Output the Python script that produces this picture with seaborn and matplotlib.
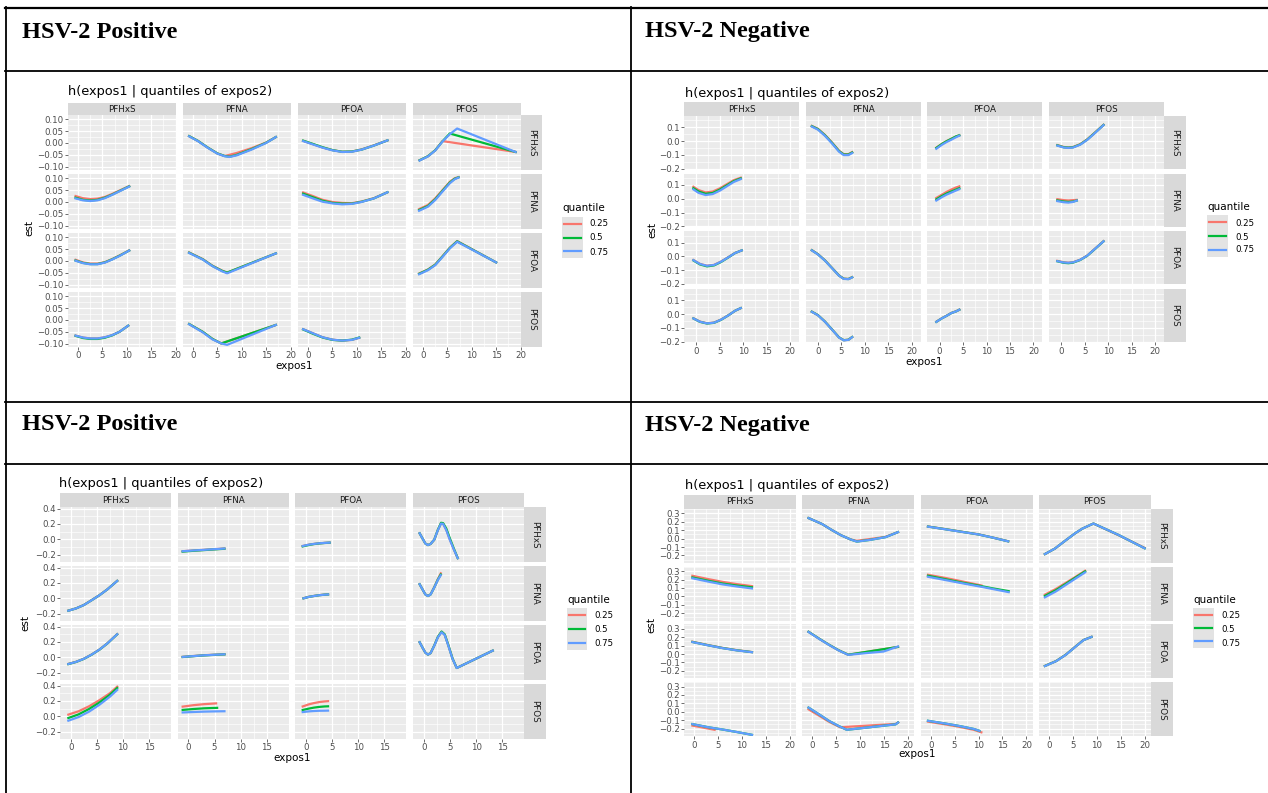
import matplotlib
matplotlib.use('Agg')
import matplotlib.pyplot as plt
from matplotlib.lines import Line2D
import pandas as pd
import seaborn as sns

plt.rcParams['font.family'] = ['DejaVu Sans']

VARS = ['PFHxS', 'PFNA', 'PFOA', 'PFOS']
QUANTILES = ['0.25', '0.5', '0.75']
COLORS = ['#F8766D', '#00BA38', '#619CFF']
HEADERS = ['HSV-2 Positive', 'HSV-2 Negative', 'HSV-2 Positive', 'HSV-2 Negative']
TITLE = 'h(expos1 | quantiles of expos2)'

# ---------------- data: (expos1 column, expos2 row) -> curves per quantile ----------------
POS_TOP = {
    ('PFHxS', 'PFNA'): dict(x=[-0.5, 1, 2.5, 4, 5.5, 7, 8.5, 10.5],
                            q25=[0.025, 0.016, 0.012, 0.014, 0.021, 0.034, 0.048, 0.067],
                            q50=[0.018, 0.009, 0.006, 0.009, 0.018, 0.031, 0.046, 0.066],
                            q75=[0.015, 0.007, 0.004, 0.007, 0.016, 0.030, 0.045, 0.065]),
    ('PFHxS', 'PFOA'): dict(x=[-0.5, 1, 2.5, 4, 5.5, 7, 8.5, 10.5],
                            q25=[0.005, -0.006, -0.011, -0.011, -0.005, 0.008, 0.023, 0.045],
                            q50=[0.002, -0.008, -0.013, -0.013, -0.006, 0.007, 0.022, 0.044],
                            q75=[0.001, -0.009, -0.014, -0.014, -0.007, 0.006, 0.021, 0.044]),
    ('PFHxS', 'PFOS'): dict(x=[-0.5, 1, 2.5, 4, 5.5, 7, 8.5, 10.3],
                            q25=[-0.066, -0.074, -0.078, -0.078, -0.073, -0.064, -0.050, -0.024],
                            q50=[-0.067, -0.076, -0.080, -0.080, -0.075, -0.065, -0.050, -0.024],
                            q75=[-0.066, -0.074, -0.078, -0.078, -0.073, -0.064, -0.050, -0.024]),
    ('PFNA', 'PFHxS'): dict(x=[-0.8, 1, 3, 5, 6.5, 7.5, 9, 12, 15, 17],
                            x25=[-0.8, 1, 3, 5, 6.5, 9, 12, 15, 17],
                            q25=[0.029, 0.009, -0.019, -0.044, -0.055, -0.042, -0.022, 0.002, 0.025],
                            q50=[0.029, 0.009, -0.019, -0.044, -0.055, -0.058, -0.050, -0.026, 0.001, 0.025],
                            q75=[0.028, 0.008, -0.020, -0.045, -0.056, -0.059, -0.052, -0.028, 0.000, 0.025]),
    ('PFNA', 'PFOA'): dict(x=[-0.8, 2, 4, 6, 7, 17],
                           q25=[0.036, 0.008, -0.020, -0.041, -0.049, 0.032],
                           q50=[0.035, 0.007, -0.021, -0.042, -0.049, 0.032],
                           q75=[0.034, 0.006, -0.022, -0.044, -0.052, 0.032]),
    ('PFNA', 'PFOS'): dict(x=[-0.8, 2, 4, 5.8, 7, 17],
                           x25=[-0.8, 2, 4, 5.8, 17], x50=[-0.8, 2, 4, 5.8, 17],
                           q25=[-0.017, -0.050, -0.080, -0.099, -0.021],
                           q50=[-0.017, -0.050, -0.080, -0.099, -0.021],
                           q75=[-0.018, -0.052, -0.082, -0.099, -0.105, -0.021]),
    ('PFOA', 'PFHxS'): dict(x=[-1, 1, 3, 5, 7, 9, 11, 13.5, 16.3],
                            q25=[0.009, -0.005, -0.019, -0.030, -0.037, -0.036, -0.027, -0.010, 0.011],
                            q50=[0.010, -0.004, -0.018, -0.030, -0.037, -0.036, -0.028, -0.011, 0.011],
                            q75=[0.008, -0.006, -0.020, -0.031, -0.038, -0.037, -0.028, -0.011, 0.011]),
    ('PFOA', 'PFNA'): dict(x=[-1, 1, 3, 5, 7, 9, 11, 13.5, 16.3],
                           q25=[0.040, 0.025, 0.009, 0.000, -0.004, -0.005, 0.002, 0.016, 0.041],
                           q50=[0.035, 0.020, 0.005, -0.004, -0.007, -0.007, 0.001, 0.015, 0.041],
                           q75=[0.030, 0.015, 0.001, -0.006, -0.010, -0.008, 0.000, 0.015, 0.041]),
    ('PFOA', 'PFOS'): dict(x=[-1, 1, 3, 5, 7, 9, 10.5],
                           q25=[-0.039, -0.056, -0.073, -0.083, -0.087, -0.084, -0.075],
                           q50=[-0.040, -0.058, -0.074, -0.084, -0.087, -0.083, -0.074],
                           q75=[-0.039, -0.056, -0.073, -0.083, -0.087, -0.084, -0.075]),
    ('PFOS', 'PFHxS'): dict(x=[-0.7, 1, 2.5, 4, 5.5, 7, 19],
                            x25=[-0.7, 1, 2.5, 4, 19], x50=[-0.7, 1, 2.5, 4, 5.5, 19],
                            q25=[-0.073, -0.056, -0.031, 0.008, -0.038],
                            q50=[-0.073, -0.056, -0.031, 0.007, 0.040, -0.038],
                            q75=[-0.074, -0.057, -0.032, 0.006, 0.037, 0.061, -0.038]),
    ('PFOS', 'PFNA'): dict(x=[-0.8, 1, 2.5, 4, 5.5, 6.5, 7.3],
                           q25=[-0.030, -0.013, 0.015, 0.050, 0.085, 0.100, 0.105],
                           q50=[-0.034, -0.017, 0.011, 0.047, 0.082, 0.098, 0.104],
                           q75=[-0.037, -0.020, 0.008, 0.044, 0.079, 0.096, 0.103]),
    ('PFOS', 'PFOA'): dict(x=[-0.8, 1, 2.5, 4, 5.5, 7, 15],
                           q25=[-0.053, -0.036, -0.015, 0.020, 0.056, 0.084, -0.006],
                           q50=[-0.054, -0.037, -0.016, 0.019, 0.055, 0.083, -0.006],
                           q75=[-0.056, -0.039, -0.018, 0.017, 0.053, 0.081, -0.006]),
}

NEG_TOP = {
    ('PFHxS', 'PFNA'): dict(x=[-0.6, 0.5, 2, 3.5, 5, 6.5, 8, 9.5],
                            q25=[0.087, 0.063, 0.046, 0.052, 0.075, 0.105, 0.135, 0.153],
                            q50=[0.077, 0.053, 0.036, 0.042, 0.066, 0.097, 0.128, 0.148],
                            q75=[0.068, 0.043, 0.027, 0.034, 0.058, 0.090, 0.122, 0.143]),
    ('PFHxS', 'PFOA'): dict(x=[-0.6, 0.8, 2.3, 3.8, 5.3, 6.8, 8.3, 9.7],
                            q25=[-0.026, -0.054, -0.067, -0.061, -0.037, -0.006, 0.026, 0.044],
                            q50=[-0.029, -0.058, -0.072, -0.065, -0.040, -0.008, 0.025, 0.044],
                            q75=[-0.027, -0.055, -0.068, -0.062, -0.038, -0.007, 0.025, 0.044]),
    ('PFHxS', 'PFOS'): dict(x=[-0.6, 0.8, 2.3, 3.8, 5.3, 6.8, 8.3, 9.5],
                            q25=[-0.030, -0.054, -0.066, -0.061, -0.039, -0.009, 0.025, 0.044],
                            q50=[-0.031, -0.056, -0.068, -0.063, -0.041, -0.010, 0.025, 0.044],
                            q75=[-0.031, -0.055, -0.067, -0.062, -0.040, -0.010, 0.025, 0.044]),
    ('PFNA', 'PFHxS'): dict(x=[-1.3, 0, 1.5, 3, 4.5, 5.5, 6.5, 7.3],
                            q25=[0.110, 0.089, 0.045, -0.010, -0.070, -0.095, -0.095, -0.080],
                            q50=[0.108, 0.087, 0.042, -0.013, -0.073, -0.098, -0.098, -0.083],
                            q75=[0.105, 0.083, 0.038, -0.017, -0.077, -0.102, -0.102, -0.087]),
    ('PFNA', 'PFOA'): dict(x=[-1.3, 0, 1.5, 3, 4.5, 5.5, 6.5, 7.3],
                           q25=[0.046, 0.017, -0.028, -0.083, -0.138, -0.161, -0.163, -0.150],
                           q50=[0.045, 0.016, -0.029, -0.084, -0.139, -0.162, -0.164, -0.151],
                           q75=[0.044, 0.015, -0.030, -0.085, -0.140, -0.163, -0.165, -0.152]),
    ('PFNA', 'PFOS'): dict(x=[-1.3, 0, 1.5, 3, 4.5, 5.5, 6.5, 7.3],
                           q25=[0.018, -0.007, -0.054, -0.111, -0.169, -0.189, -0.186, -0.166],
                           q50=[0.018, -0.007, -0.054, -0.111, -0.169, -0.189, -0.186, -0.166],
                           q75=[0.017, -0.008, -0.055, -0.112, -0.170, -0.190, -0.187, -0.167]),
    ('PFOA', 'PFHxS'): dict(x=[-0.7, 0.5, 1.5, 2.5, 3.5, 4.2],
                            q25=[-0.048, -0.020, 0.000, 0.017, 0.033, 0.042],
                            q50=[-0.050, -0.021, -0.001, 0.016, 0.034, 0.042],
                            q75=[-0.056, -0.027, -0.007, 0.010, 0.028, 0.039]),
    ('PFOA', 'PFNA'): dict(x=[-0.7, 0.5, 1.5, 2.5, 3.5, 4.2],
                           q25=[0.006, 0.030, 0.050, 0.067, 0.082, 0.090],
                           q50=[-0.004, 0.020, 0.038, 0.053, 0.067, 0.077],
                           q75=[-0.013, 0.012, 0.030, 0.045, 0.060, 0.070]),
    ('PFOA', 'PFOS'): dict(x=[-0.7, 0.5, 1.5, 2.5, 3.5, 4.2],
                           q25=[-0.055, -0.029, -0.011, 0.009, 0.021, 0.033],
                           q50=[-0.056, -0.030, -0.012, 0.008, 0.020, 0.032],
                           q75=[-0.056, -0.030, -0.012, 0.008, 0.020, 0.032]),
    ('PFOS', 'PFHxS'): dict(x=[-0.85, 0.5, 1.5, 2.5, 4, 5.5, 7, 9],
                            q25=[-0.029, -0.043, -0.046, -0.043, -0.023, 0.012, 0.057, 0.118],
                            q50=[-0.031, -0.045, -0.048, -0.045, -0.025, 0.010, 0.055, 0.117],
                            q75=[-0.033, -0.047, -0.050, -0.047, -0.027, 0.008, 0.053, 0.116]),
    ('PFOS', 'PFNA'): dict(x=[-0.85, 0.5, 1.5, 2.5, 3.3],
                           q25=[-0.003, -0.010, -0.012, -0.010, -0.008],
                           q50=[-0.012, -0.020, -0.023, -0.020, -0.013],
                           q75=[-0.017, -0.025, -0.028, -0.023, -0.013]),
    ('PFOS', 'PFOA'): dict(x=[-0.85, 0.5, 1.5, 2.5, 4, 5.5, 7, 9],
                           q25=[-0.032, -0.042, -0.045, -0.042, -0.024, 0.006, 0.051, 0.111],
                           q50=[-0.035, -0.046, -0.049, -0.045, -0.026, 0.004, 0.049, 0.110],
                           q75=[-0.034, -0.044, -0.046, -0.043, -0.025, 0.005, 0.050, 0.110]),
}

POS_BOTTOM = {
    ('PFHxS', 'PFNA'): dict(x=[-0.45, 1, 2.5, 4, 5.5, 7, 8.9],
                            q25=[-0.160, -0.131, -0.087, -0.024, 0.041, 0.116, 0.227],
                            q50=[-0.161, -0.132, -0.088, -0.025, 0.040, 0.115, 0.226],
                            q75=[-0.161, -0.132, -0.088, -0.025, 0.040, 0.115, 0.226]),
    ('PFHxS', 'PFOA'): dict(x=[-0.45, 1, 2.5, 4, 5.5, 7, 8.9],
                            q25=[-0.086, -0.059, -0.019, 0.036, 0.101, 0.181, 0.301],
                            q50=[-0.088, -0.061, -0.021, 0.034, 0.099, 0.179, 0.299],
                            q75=[-0.087, -0.060, -0.020, 0.035, 0.100, 0.180, 0.300]),
    ('PFHxS', 'PFOS'): dict(x=[-0.45, 1.5, 3.5, 5.5, 7.5, 8.9],
                            q25=[0.022, 0.065, 0.130, 0.210, 0.300, 0.385],
                            q50=[-0.022, 0.025, 0.095, 0.180, 0.280, 0.368],
                            q75=[-0.057, -0.010, 0.060, 0.150, 0.255, 0.343]),
    ('PFNA', 'PFHxS'): dict(x=[-1.1, 1, 3, 5, 6.9],
                            q25=[-0.155, -0.145, -0.137, -0.128, -0.120],
                            q50=[-0.160, -0.149, -0.140, -0.131, -0.123],
                            q75=[-0.155, -0.145, -0.137, -0.128, -0.120]),
    ('PFNA', 'PFOA'): dict(x=[-1.1, 1, 3, 5, 6.9],
                           q25=[0.006, 0.017, 0.027, 0.034, 0.040],
                           q50=[0.004, 0.015, 0.025, 0.032, 0.038],
                           q75=[0.005, 0.016, 0.026, 0.033, 0.039]),
    ('PFNA', 'PFOS'): dict(x=[-1.1, 1, 3, 5, 6.9],
                           x25=[-1.1, 1, 3, 5.3], x50=[-1.1, 1, 3, 5.5],
                           q25=[0.126, 0.145, 0.158, 0.168],
                           q50=[0.083, 0.095, 0.104, 0.110],
                           q75=[0.050, 0.056, 0.061, 0.064, 0.066]),
    ('PFOA', 'PFHxS'): dict(x=[-0.65, 0.5, 1.5, 2.5, 3.5, 4.5],
                            q25=[-0.087, -0.070, -0.060, -0.052, -0.047, -0.043],
                            q50=[-0.092, -0.074, -0.062, -0.054, -0.048, -0.044],
                            q75=[-0.087, -0.070, -0.060, -0.052, -0.047, -0.043]),
    ('PFOA', 'PFNA'): dict(x=[-0.5, 0.5, 1.5, 2.5, 3.5, 4.2],
                           q25=[0.001, 0.019, 0.031, 0.041, 0.048, 0.051],
                           q50=[0.000, 0.018, 0.030, 0.040, 0.047, 0.050],
                           q75=[0.000, 0.018, 0.030, 0.040, 0.047, 0.050]),
    ('PFOA', 'PFOS'): dict(x=[-0.65, 0.5, 1.5, 2.5, 3.5, 4.2],
                           q25=[0.128, 0.155, 0.172, 0.185, 0.193, 0.197],
                           q50=[0.082, 0.100, 0.113, 0.122, 0.128, 0.130],
                           q75=[0.055, 0.064, 0.069, 0.072, 0.073, 0.074]),
    ('PFOS', 'PFHxS'): dict(x=[-0.8, -0.2, 0.3, 0.8, 1.3, 2, 2.7, 3.3, 3.7, 4.3, 5, 5.8, 6.5],
                            q25=[0.078, 0.005, -0.055, -0.075, -0.060, -0.005, 0.122, 0.210, 0.203, 0.125, -0.005, -0.138, -0.245],
                            q50=[0.078, 0.005, -0.055, -0.075, -0.060, -0.005, 0.125, 0.215, 0.210, 0.140, 0.010, -0.130, -0.245],
                            q75=[0.078, 0.005, -0.055, -0.075, -0.060, -0.005, 0.120, 0.205, 0.200, 0.120, -0.010, -0.140, -0.245]),
    ('PFOS', 'PFNA'): dict(x=[-0.8, -0.2, 0.3, 0.8, 1.3, 2, 2.7, 3.25],
                           q25=[0.183, 0.110, 0.050, 0.030, 0.052, 0.145, 0.250, 0.325],
                           q50=[0.183, 0.110, 0.050, 0.030, 0.050, 0.142, 0.245, 0.310],
                           q75=[0.183, 0.110, 0.050, 0.030, 0.050, 0.140, 0.240, 0.300]),
    ('PFOS', 'PFOA'): dict(x=[-0.8, -0.2, 0.3, 0.8, 1.3, 2, 2.7, 3.4, 4, 4.7, 5.5, 6.3, 13.2],
                           q25=[0.196, 0.120, 0.060, 0.035, 0.055, 0.152, 0.265, 0.332, 0.295, 0.155, -0.018, -0.139, 0.087],
                           q50=[0.196, 0.120, 0.060, 0.035, 0.055, 0.153, 0.266, 0.335, 0.298, 0.158, -0.016, -0.139, 0.087],
                           q75=[0.196, 0.120, 0.060, 0.035, 0.055, 0.150, 0.260, 0.326, 0.290, 0.150, -0.020, -0.139, 0.087]),
}

NEG_BOTTOM = {
    ('PFHxS', 'PFNA'): dict(x=[-0.35, 3, 6, 9, 12.1],
                            q25=[0.245, 0.205, 0.172, 0.145, 0.122],
                            q50=[0.225, 0.185, 0.152, 0.128, 0.108],
                            q75=[0.215, 0.175, 0.142, 0.117, 0.094]),
    ('PFHxS', 'PFOA'): dict(x=[-0.35, 3, 6, 9, 12.1],
                            q25=[0.147, 0.106, 0.073, 0.046, 0.024],
                            q50=[0.144, 0.104, 0.071, 0.044, 0.023],
                            q75=[0.143, 0.103, 0.070, 0.043, 0.022]),
    ('PFHxS', 'PFOS'): dict(x=[-0.35, 3, 6, 9, 12.1],
                            x25=[-0.35, 2, 4.3],
                            q25=[-0.165, -0.190, -0.215],
                            q50=[-0.147, -0.185, -0.212, -0.242, -0.275],
                            q75=[-0.147, -0.185, -0.212, -0.242, -0.275]),
    ('PFNA', 'PFHxS'): dict(x=[-0.8, 2, 4, 6, 8, 9.3, 12, 15.3, 17.9],
                            q25=[0.245, 0.175, 0.105, 0.040, -0.010, -0.025, -0.005, 0.022, 0.078],
                            q50=[0.245, 0.175, 0.105, 0.040, -0.010, -0.035, -0.015, 0.018, 0.078],
                            q75=[0.245, 0.175, 0.105, 0.040, -0.010, -0.035, -0.015, 0.018, 0.078]),
    ('PFNA', 'PFOA'): dict(x=[-0.8, 1.5, 3.5, 5.5, 7.5, 11, 14.9, 17.9],
                           x25=[-0.8, 1.5, 3.5, 5.5, 7.5, 17.9], x50=[-0.8, 1.5, 3.5, 5.5, 7.5, 17.9],
                           q25=[0.265, 0.180, 0.110, 0.045, -0.008, 0.085],
                           q50=[0.265, 0.180, 0.110, 0.045, -0.008, 0.085],
                           q75=[0.263, 0.178, 0.108, 0.043, -0.010, 0.010, 0.030, 0.090]),
    ('PFNA', 'PFOS'): dict(x=[-0.8, 1.5, 3.5, 5.5, 7.2, 17.4, 17.9],
                           x25=[-0.8, 1.5, 3.5, 5.8, 17.4, 17.9],
                           q25=[0.029, -0.050, -0.120, -0.185, -0.145, -0.128],
                           q50=[0.049, -0.035, -0.110, -0.170, -0.215, -0.150, -0.128],
                           q75=[0.049, -0.035, -0.110, -0.170, -0.215, -0.150, -0.128]),
    ('PFOA', 'PFHxS'): dict(x=[-0.56, 3, 6, 10, 13, 16.2],
                            q25=[0.145, 0.114, 0.087, 0.051, 0.013, -0.031],
                            q50=[0.144, 0.113, 0.086, 0.050, 0.012, -0.032],
                            q75=[0.143, 0.112, 0.085, 0.050, 0.012, -0.032]),
    ('PFOA', 'PFNA'): dict(x=[-0.56, 3, 6, 10, 13, 16.3],
                           x25=[-0.56, 3, 6, 10.6],
                           q25=[0.257, 0.220, 0.185, 0.130],
                           q50=[0.245, 0.205, 0.170, 0.128, 0.095, 0.062],
                           q75=[0.233, 0.195, 0.162, 0.120, 0.087, 0.050]),
    ('PFOA', 'PFOS'): dict(x=[-0.56, 3, 6, 9, 10.2],
                           x25=[-0.56, 3, 6, 9, 10.6],
                           q25=[-0.118, -0.150, -0.180, -0.215, -0.245],
                           q50=[-0.108, -0.140, -0.170, -0.205, -0.228],
                           q75=[-0.108, -0.140, -0.170, -0.205, -0.228]),
    ('PFOS', 'PFHxS'): dict(x=[-0.85, 1.25, 3.5, 5.5, 7, 9.3, 14.5, 20],
                            q25=[-0.184, -0.118, -0.020, 0.065, 0.120, 0.180, 0.042, -0.110],
                            q50=[-0.184, -0.118, -0.020, 0.065, 0.120, 0.180, 0.045, -0.115],
                            q75=[-0.184, -0.118, -0.020, 0.065, 0.120, 0.180, 0.045, -0.115]),
    ('PFOS', 'PFNA'): dict(x=[-0.85, 1.5, 3.5, 5.5, 7.55],
                           q25=[0.020, 0.090, 0.160, 0.230, 0.305],
                           q50=[0.005, 0.075, 0.148, 0.222, 0.297],
                           q75=[-0.012, 0.060, 0.135, 0.210, 0.285]),
    ('PFOS', 'PFOA'): dict(x=[-0.85, 1.5, 3.5, 5.5, 7.2, 8.9],
                           q25=[-0.141, -0.083, -0.008, 0.087, 0.167, 0.205],
                           q50=[-0.142, -0.084, -0.009, 0.086, 0.166, 0.204],
                           q75=[-0.143, -0.085, -0.010, 0.085, 0.165, 0.204]),
}

# axis breaks / labels per panel
X_BREAKS = [[0, 5, 10, 15, 20], [0, 5, 10, 15, 20], [0, 5, 10, 15], [0, 5, 10, 15, 20]]
Y_BREAKS = [[-0.10, -0.05, 0.0, 0.05, 0.10], [-0.2, -0.1, 0.0, 0.1],
            [-0.2, 0.0, 0.2, 0.4], [-0.2, -0.1, 0.0, 0.1, 0.2, 0.3]]
Y_LABELS = [['\u22120.10', '\u22120.05', '0.00', '0.05', '0.10'],
            ['\u22120.2', '\u22120.1', '0.0', '0.1'],
            ['\u22120.2', '0.0', '0.2', '0.4'],
            ['\u22120.2', '\u22120.1', '0.0', '0.1', '0.2', '0.3']]

# ---------------- long-form table ----------------
rows = []
for pname, facets in zip(['p1', 'p2', 'p3', 'p4'], [POS_TOP, NEG_TOP, POS_BOTTOM, NEG_BOTTOM]):
    for (c, r), d in facets.items():
        for q, k in zip(QUANTILES, ['25', '50', '75']):
            xs = d.get('x' + k, d['x'])
            ys = d['q' + k]
            for xv, yv in zip(xs, ys):
                rows.append(dict(panel=pname, expos1=c, expos2=r, quantile=q, x=xv, y=yv))
df = pd.DataFrame(rows)

# ---------------- layout (pixels) ----------------
W, H = 1268, 793
fig = plt.figure(figsize=(W / 100, H / 100), dpi=100)


def fr(x, y, w, h):
    return [x / W, 1 - (y + h) / H, w / W, h / H]


LAYOUT = [
    dict(cx0=68, cp=115, cw=108, st=103, sh=12, ry0=115, rp=59, rh=55, rw=21,
         xlim=(-2.05, 20.1), ylim=(-0.114, 0.118), title=(68, 92),
         est=(29, 228), xl=(294, 366), leg=(562, 208, 589, [224, 238, 252], 217, 258, 21)),
    dict(cx0=684, cp=121.7, cw=115, st=102, sh=14, ry0=116, rp=57.7, rh=53, rw=22,
         xlim=(-2.6, 21.9), ylim=(-0.203, 0.182), title=(685, 93),
         est=(652, 230), xl=(924, 362), leg=(1207, 207, 1235, [223, 237, 250], 215, 257, 21)),
    dict(cx0=60, cp=117.7, cw=111, st=493, sh=14, ry0=507, rp=59, rh=55, rw=22,
         xlim=(-2.05, 19.2), ylim=(-0.295, 0.42), title=(59, 483),
         est=(25, 623), xl=(292, 758), leg=(567, 600, 594, [616, 630, 644], 608, 650, 20)),
    dict(cx0=684, cp=118.3, cw=112, st=495, sh=14, ry0=509, rp=57.7, rh=54, rw=22,
         xlim=(-2.1, 21.3), ylim=(-0.29, 0.353), title=(685, 486),
         est=(651, 625), xl=(917, 754), leg=(1193, 600, 1221, [615, 629, 643], 608, 648, 21)),
]
HEADER_POS = [(22, 32), (645, 32), (22, 425), (645, 425)]

TICK_FS = 6.2
STRIP_FS = 6.3

for pi, (pname, L) in enumerate(zip(['p1', 'p2', 'p3', 'p4'], LAYOUT)):
    xb, yb = X_BREAKS[pi], Y_BREAKS[pi]
    xminor = [(a + b) / 2 for a, b in zip(xb[:-1], xb[1:])]
    ystep = yb[1] - yb[0]
    yminor = [v + ystep / 2 for v in [yb[0] - ystep] + yb]
    yminor = [v for v in yminor if L['ylim'][0] < v < L['ylim'][1]]
    for ri, rv in enumerate(VARS):
        for ci, cv in enumerate(VARS):
            ax = fig.add_axes(fr(L['cx0'] + ci * L['cp'], L['ry0'] + ri * L['rp'], L['cw'], L['rh']))
            ax.set_facecolor('#EBEBEB')
            ax.set_axisbelow(True)
            sub = df[(df.panel == pname) & (df.expos1 == cv) & (df.expos2 == rv)]
            if len(sub):
                sns.lineplot(data=sub, x='x', y='y', hue='quantile', hue_order=QUANTILES,
                             palette=COLORS, estimator=None, sort=False, linewidth=1.6,
                             legend=False, ax=ax)
            ax.set_xlim(*L['xlim'])
            ax.set_ylim(*L['ylim'])
            ax.set_xticks(xb)
            ax.set_xticks(xminor, minor=True)
            ax.set_yticks(yb)
            ax.set_yticks(yminor, minor=True)
            ax.grid(which='major', color='white', lw=0.9)
            ax.grid(which='minor', color='white', lw=0.45)
            for s in ax.spines.values():
                s.set_visible(False)
            ax.tick_params(which='minor', length=0)
            ax.tick_params(which='major', length=2.0, width=0.5, color='#333333',
                           labelsize=TICK_FS, labelcolor='#4D4D4D', pad=1.2)
            if ci == 0:
                ax.set_yticklabels(Y_LABELS[pi])
            else:
                ax.tick_params(axis='y', left=False, labelleft=False)
            if ri == 3:
                ax.set_xticklabels([str(v) for v in xb])
            else:
                ax.tick_params(axis='x', bottom=False, labelbottom=False)
            ax.set_xlabel('')
            ax.set_ylabel('')
    # strips
    for ci, cv in enumerate(VARS):
        sa = fig.add_axes(fr(L['cx0'] + ci * L['cp'], L['st'], L['cw'], L['sh']))
        sa.set_facecolor('#D9D9D9')
        sa.set_xticks([]); sa.set_yticks([])
        for s in sa.spines.values():
            s.set_visible(False)
        sa.text(0.5, 0.5, cv, ha='center', va='center', fontsize=STRIP_FS,
                color='#1A1A1A', transform=sa.transAxes)
    rx = L['cx0'] + 3 * L['cp'] + L['cw']
    for ri, rv in enumerate(VARS):
        sa = fig.add_axes(fr(rx, L['ry0'] + ri * L['rp'], L['rw'], L['rh']))
        sa.set_facecolor('#D9D9D9')
        sa.set_xticks([]); sa.set_yticks([])
        for s in sa.spines.values():
            s.set_visible(False)
        sa.text(0.5, 0.5, rv, ha='center', va='center', fontsize=STRIP_FS, rotation=-90,
                color='#1A1A1A', transform=sa.transAxes)
    # titles & axis labels
    fig.text(L['title'][0] / W, 1 - L['title'][1] / H, TITLE, fontsize=9.3,
             ha='left', va='center', color='black')
    fig.text(L['est'][0] / W, 1 - L['est'][1] / H, 'est', fontsize=7.5,
             rotation=90, ha='center', va='center')
    fig.text(L['xl'][0] / W, 1 - L['xl'][1] / H, 'expos1', fontsize=7.5,
             ha='center', va='center')
    # legend
    tx, ty, lx, lys, kt, kb, kw = L['leg']
    fig.text(tx / W, 1 - ty / H, 'quantile', fontsize=7.5, ha='left', va='center')
    la = fig.add_axes(fr(tx, kt, kw, kb - kt))
    la.set_facecolor('#E3E3E3')
    la.set_xlim(0, 1); la.set_ylim(0, 3)
    la.set_xticks([]); la.set_yticks([])
    for s in la.spines.values():
        s.set_visible(False)
    for k, (q, col) in enumerate(zip(QUANTILES, COLORS)):
        la.plot([0.1, 0.9], [2.5 - k, 2.5 - k], color=col, lw=1.6)
        fig.text(lx / W, 1 - lys[k] / H, q, fontsize=TICK_FS, ha='left', va='center', color='black')

# headers
for (hx, hy), txt in zip(HEADER_POS, HEADERS):
    fig.text(hx / W, 1 - hy / H, txt, fontsize=17.5, fontweight='bold',
             family=['Liberation Serif', 'DejaVu Serif'], ha='left', va='center')

# table rules
def line_px(x0, y0, x1, y1, lw=1.3):
    fig.add_artist(Line2D([x0 / W, x1 / W], [1 - y0 / H, 1 - y1 / H],
                          transform=fig.transFigure, color='black', lw=lw))

line_px(5, 8, W, 8, lw=1.6)
for yy in [71, 402, 464]:
    line_px(5, yy, W, yy)
line_px(6, 7, 6, H)
line_px(631, 7, 631, H)

fig.savefig('out.png', dpi=100)
